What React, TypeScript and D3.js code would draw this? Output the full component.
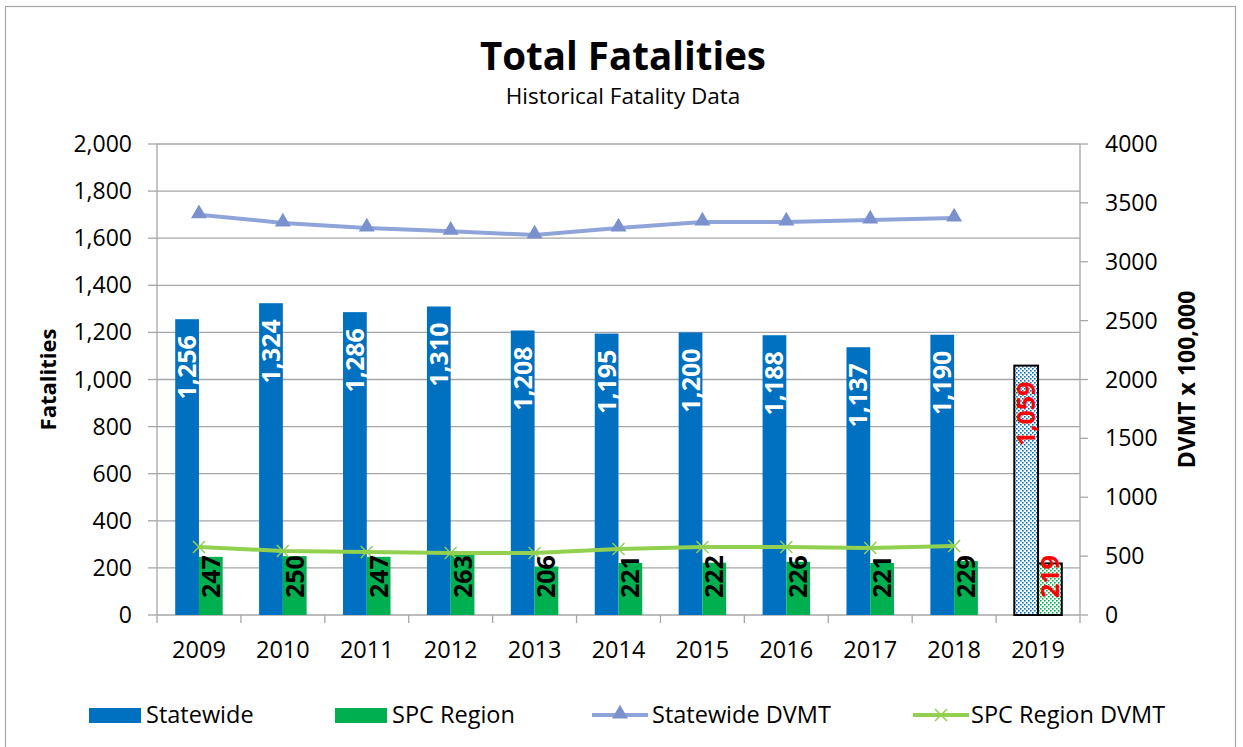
import React from 'react'
import * as d3 from 'd3'

const years = ['2009', '2010', '2011', '2012', '2013', '2014', '2015', '2016', '2017', '2018', '2019']
const statewide = [1256, 1324, 1286, 1310, 1208, 1195, 1200, 1188, 1137, 1190, 1059]
const spcRegion = [247, 250, 247, 263, 206, 221, 222, 226, 221, 229, 219]
const dvmtYears = ['2009', '2010', '2011', '2012', '2013', '2014', '2015', '2016', '2017', '2018']
const statewideDvmt = [3400, 3330, 3287, 3260, 3227, 3287, 3338, 3338, 3355, 3372]
const spcDvmt = [577, 544, 535, 527, 527, 560, 577, 577, 569, 586]
const leftTicks = [0, 200, 400, 600, 800, 1000, 1200, 1400, 1600, 1800, 2000]
const rightTicks = [0, 500, 1000, 1500, 2000, 2500, 3000, 3500, 4000]
const partialYear = '2019'

const W = 1243
const H = 747
const font = '"Open Sans", Lato, "Liberation Sans", sans-serif'

export default function App() {
  const plot = { left: 157, right: 1080, top: 144, bottom: 615 }

  const x = d3.scaleBand().domain(years).range([plot.left, plot.right]).padding(0)
  const bw = x.bandwidth()
  const inner = d3.scaleBand().domain(['s', 'r']).range([(bw - bw * 0.566) / 2, (bw + bw * 0.566) / 2])
  const yL = d3.scaleLinear().domain([0, 2000]).range([plot.bottom, plot.top])
  const yR = d3.scaleLinear().domain([0, 4000]).range([plot.bottom, plot.top])
  const fmt = d3.format(',')

  const cx = (yr: string) => (x(yr) as number) + bw / 2
  const line1 = d3.line<number>().x((_, i) => cx(dvmtYears[i])).y(d => yR(d))(statewideDvmt) as string
  const line2 = d3.line<number>().x((_, i) => cx(dvmtYears[i])).y(d => yR(d))(spcDvmt) as string
  const tri = d3.symbol().type(d3.symbolTriangle).size(110)() as string

  const grid = '#a6a6a6'

  return (
    <div style={{ position: 'absolute', left: 0, top: 0 }}>
      <svg width={W} height={H} style={{ display: 'block', fontFamily: font }}>
        <defs>
          <pattern id="dotBlue" width="4" height="4" patternUnits="userSpaceOnUse">
            <rect width="4" height="4" fill="#fff" />
            <rect x="0" y="0" width="1.6" height="1.6" fill="#0070C0" />
            <rect x="2" y="2" width="1.6" height="1.6" fill="#0070C0" />
          </pattern>
          <pattern id="dotGreen" width="4" height="4" patternUnits="userSpaceOnUse">
            <rect width="4" height="4" fill="#fff" />
            <rect x="0" y="0" width="1.6" height="1.6" fill="#00B050" />
            <rect x="2" y="2" width="1.6" height="1.6" fill="#00B050" />
          </pattern>
        </defs>
        <rect x={0} y={0} width={W} height={H} fill="#fff" />
        <rect x={5.5} y={6.5} width={1230} height={760} fill="none" stroke="#a6a6a6" strokeWidth={1.2} />

        {/* titles */}
        <text x={623} y={70} textAnchor="middle" fontSize={38.5} fontWeight="bold">Total Fatalities</text>
        <text x={623} y={104} textAnchor="middle" fontSize={22.5}>Historical Fatality Data</text>

        {/* gridlines */}
        {leftTicks.map(t => (
          <line key={'g' + t} x1={plot.left} x2={plot.right} y1={yL(t)} y2={yL(t)} stroke={grid} strokeWidth={1.3} />
        ))}

        {/* left axis */}
        <line x1={plot.left} x2={plot.left} y1={plot.top} y2={plot.bottom} stroke={grid} strokeWidth={1.3} />
        {leftTicks.map(t => (
          <g key={'l' + t}>
            <line x1={plot.left - 9} x2={plot.left} y1={yL(t)} y2={yL(t)} stroke={grid} strokeWidth={1.3} />
            <text x={132} y={yL(t)} dy="0.35em" textAnchor="end" fontSize={23}>{fmt(t)}</text>
          </g>
        ))}
        <text transform={`translate(48,${(plot.top + plot.bottom) / 2}) rotate(-90)`} dy="0.35em" textAnchor="middle" fontSize={22} fontWeight="bold">Fatalities</text>

        {/* right axis */}
        <line x1={plot.right} x2={plot.right} y1={plot.top} y2={plot.bottom} stroke={grid} strokeWidth={1.3} />
        {rightTicks.map(t => (
          <g key={'r' + t}>
            <line x1={plot.right} x2={plot.right + 8} y1={yR(t)} y2={yR(t)} stroke={grid} strokeWidth={1.3} />
            <text x={1105} y={yR(t)} dy="0.35em" textAnchor="start" fontSize={23}>{t}</text>
          </g>
        ))}
        <text transform={`translate(1187,${(plot.top + plot.bottom) / 2}) rotate(-90)`} dy="0.35em" textAnchor="middle" fontSize={23} fontWeight="bold">DVMT x 100,000</text>

        {/* bottom axis ticks */}
        {years.map(yr => (
          <line key={'bt' + yr} x1={x(yr) as number} x2={x(yr) as number} y1={plot.bottom} y2={plot.bottom + 8} stroke={grid} strokeWidth={1.3} />
        ))}
        <line x1={plot.right} x2={plot.right} y1={plot.bottom} y2={plot.bottom + 8} stroke={grid} strokeWidth={1.3} />
        {years.map(yr => (
          <text key={'yl' + yr} x={cx(yr)} y={658} textAnchor="middle" fontSize={23.5}>{yr}</text>
        ))}

        {/* bars */}
        {years.map((yr, i) => {
          const part = yr === partialYear
          const x0 = (x(yr) as number) + (inner('s') as number)
          const x1 = (x(yr) as number) + (inner('r') as number)
          const w = inner.bandwidth()
          return (
            <g key={'b' + yr}>
              <rect x={x0} y={yL(statewide[i])} width={w} height={plot.bottom - yL(statewide[i])}
                fill={part ? 'url(#dotBlue)' : '#0070C0'} stroke={part ? '#000' : 'none'} strokeWidth={2} />
              <rect x={x1} y={yL(spcRegion[i])} width={w} height={plot.bottom - yL(spcRegion[i])}
                fill={part ? 'url(#dotGreen)' : '#00B050'} stroke={part ? '#000' : 'none'} strokeWidth={2} />
            </g>
          )
        })}

        {/* DVMT lines */}
        <path d={line1} fill="none" stroke="#8FA5D9" strokeWidth={4} />
        {statewideDvmt.map((v, i) => (
          <path key={'t' + i} d={tri} transform={`translate(${cx(dvmtYears[i])},${yR(v) - 1})`} fill="#7A91CE" />
        ))}
        <path d={line2} fill="none" stroke="#92D050" strokeWidth={4} />
        {spcDvmt.map((v, i) => (
          <g key={'x' + i} transform={`translate(${cx(dvmtYears[i])},${yR(v)})`} stroke="#92D050" strokeWidth={1.5}>
            <line x1={-6} y1={-6} x2={6} y2={6} />
            <line x1={-6} y1={6} x2={6} y2={-6} />
          </g>
        ))}

        {/* data labels */}
        {years.map((yr, i) => {
          const part = yr === partialYear
          const w = inner.bandwidth()
          const xs = (x(yr) as number) + (inner('s') as number) + w / 2
          const xr = (x(yr) as number) + (inner('r') as number) + w / 2
          return (
            <g key={'lab' + yr} fontSize={25} fontWeight="bold">
              <text transform={`translate(${xs},${yL(statewide[i]) + 16}) rotate(-90)`} dy="0.36em" textAnchor="end"
                fill={part ? '#FF0000' : '#fff'}>{fmt(statewide[i])}</text>
              <text transform={`translate(${xr},${plot.bottom - 17}) rotate(-90)`} dy="0.36em" textAnchor="start"
                fill={part ? '#FF0000' : '#000'}>{fmt(spcRegion[i])}</text>
            </g>
          )
        })}

        {/* legend */}
        <g fontSize={23.5}>
          <rect x={89} y={708} width={52} height={15} fill="#0070C0" />
          <text x={146} y={723}>Statewide</text>
          <rect x={335} y={708} width={52} height={15} fill="#00B050" />
          <text x={392} y={723}>SPC Region</text>
          <line x1={592} x2={648} y1={715} y2={715} stroke="#8FA5D9" strokeWidth={4} />
          <path d={tri} transform="translate(620,714)" fill="#7A91CE" />
          <text x={652} y={723}>Statewide DVMT</text>
          <line x1={913} x2={969} y1={715} y2={715} stroke="#92D050" strokeWidth={4} />
          <g transform="translate(941,715)" stroke="#92D050" strokeWidth={1.5}>
            <line x1={-6} y1={-6} x2={6} y2={6} />
            <line x1={-6} y1={6} x2={6} y2={-6} />
          </g>
          <text x={971} y={723}>SPC Region DVMT</text>
        </g>
      </svg>
    </div>
  )
}
